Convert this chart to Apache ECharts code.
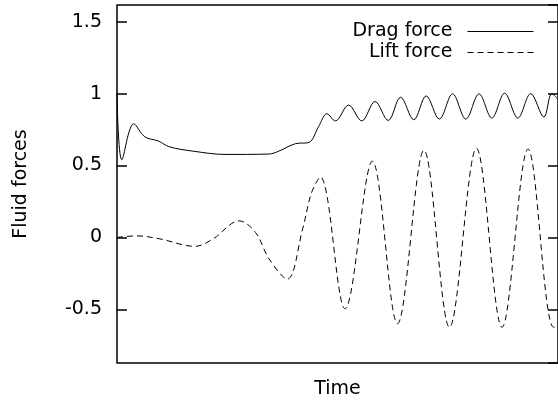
<!DOCTYPE html>
<html>
<head>
<meta charset="utf-8">
<script src="https://cdn.jsdelivr.net/npm/echarts@6/dist/echarts.min.js"></script>
<style>
  html, body { margin: 0; padding: 0; background: #fff; }
  #chart { width: 558px; height: 404px; }
</style>
</head>
<body>
<div id="chart"></div>
<script>
// values (time axis has no labels, 0..100 covers the frame)
const dragTime = [0, 1.1, 3.8, 6.3, 9.4, 11.9, 17.2, 24.7, 34.5, 36.7, 40.5, 43.5, 45.7, 47.6, 49.5, 52.5, 55.5, 58.5, 61.5, 64.3, 67.3, 70.1, 73.1, 76.1, 79.1, 82.1, 85.0, 87.9, 90.9, 93.8, 96.8, 98.6, 100]
const dragForce = [1.0, 0.54, 0.79, 0.70, 0.67, 0.63, 0.60, 0.577, 0.58, 0.60, 0.652, 0.66, 0.77, 0.86, 0.81, 0.92, 0.81, 0.945, 0.813, 0.975, 0.818, 0.984, 0.823, 0.998, 0.823, 0.998, 0.83, 1.003, 0.83, 1.0, 0.837, 1.0, 0.96]

const liftTime = [0, 4.4, 9.7, 17.6, 21.7, 27.7, 31.4, 34.5, 38.6, 42.1, 44.1, 46.1, 51.7, 57.9, 63.6, 69.6, 75.4, 81.5, 87.3, 93.2, 99.0, 100]
const liftForce = [0.0, 0.011, -0.01, -0.062, -0.012, 0.115, 0.035, -0.15, -0.29, 0.06, 0.31, 0.42, -0.496, 0.53, -0.60, 0.606, -0.625, 0.62, -0.625, 0.615, -0.625, -0.61]

const seriesNames = ['Drag force', 'Lift force']

const font = 'DejaVu Sans'

const zip = (xs, ys) => xs.map((x, i) => [x, ys[i]])

const myChart = echarts.init(document.getElementById('chart'))
myChart.setOption({
  animation: false,
  grid: {
    left: 117,
    top: 5,
    right: -3,
    bottom: 40,
    show: true,
    borderColor: '#000',
    borderWidth: 1.5,
  },
  legend: {
    orient: 'vertical',
    right: 19,
    top: 17,
    align: 'right',
    itemWidth: 66,
    itemHeight: 14,
    itemGap: 2,
    // only the line sample, no dot on it
    itemStyle: { opacity: 0 },
    lineStyle: { width: 1 },
    textStyle: { fontFamily: font, fontSize: 19, color: '#000', padding: [0, 10, 0, 0] },
    data: seriesNames,
  },
  xAxis: {
    type: 'value',
    min: 0,
    max: 100,
    name: 'Time',
    nameLocation: 'middle',
    nameGap: 17,
    nameTextStyle: { fontFamily: font, fontSize: 19, color: '#000', verticalAlign: 'top' },
    axisLine: { show: false },
    axisTick: { show: false },
    axisLabel: { show: false },
    splitLine: { show: false },
  },
  yAxis: [
    {
      type: 'value',
      min: -0.873,
      max: 1.616,
      splitNumber: 5,
      name: 'Fluid forces',
      nameLocation: 'middle',
      nameGap: 86,
      nameTextStyle: { fontFamily: font, fontSize: 19, color: '#000' },
      axisLine: { show: false },
      axisTick: { show: true, inside: true, length: 10, lineStyle: { color: '#000', width: 1.5 } },
      axisLabel: { fontFamily: font, fontSize: 19, color: '#000', margin: 15, showMinLabel: false, showMaxLabel: false },
      splitLine: { show: false },
    },
    {
      type: 'value',
      position: 'right',
      min: -0.873,
      max: 1.616,
      splitNumber: 5,
      axisLine: { show: false },
      axisTick: { show: true, inside: true, length: 10, lineStyle: { color: '#000', width: 1.5 } },
      axisLabel: { show: false },
      splitLine: { show: false },
    },
  ],
  series: [
    {
      name: seriesNames[0],
      type: 'line',
      data: zip(dragTime, dragForce),
      symbol: 'none',
      smooth: 0.35,
      lineStyle: { color: '#000', width: 1 },
      itemStyle: { color: '#000' },
    },
    {
      name: seriesNames[1],
      type: 'line',
      data: zip(liftTime, liftForce),
      symbol: 'none',
      smooth: 0.35,
      lineStyle: { color: '#000', width: 1, type: [6, 4] },
      itemStyle: { color: '#000' },
    },
  ],
})
</script>
</body>
</html>
